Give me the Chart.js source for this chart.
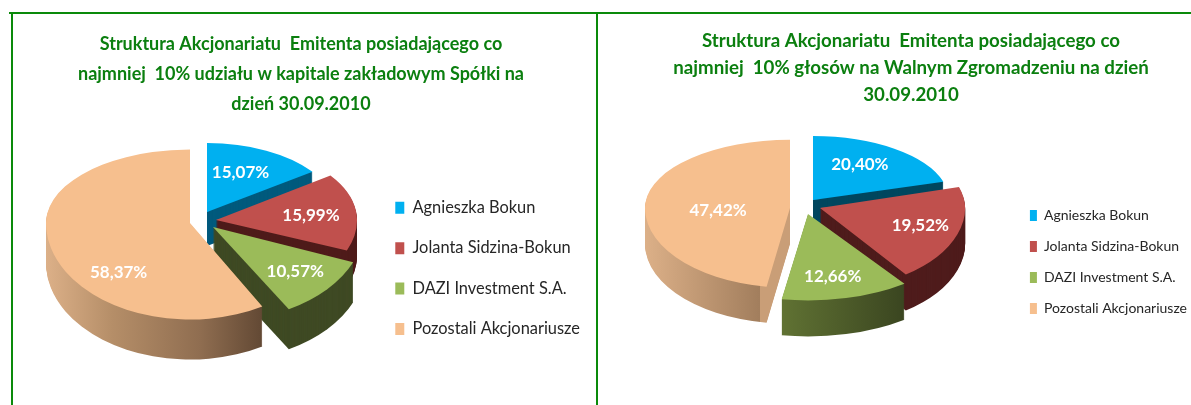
<!DOCTYPE html>
<html><head><meta charset="utf-8">
<style>
html,body{margin:0;padding:0;background:#fff;width:1191px;height:405px;overflow:hidden}
canvas{position:absolute;top:0}
.g{position:absolute;background:#0a8a0a}
</style>
<script src="https://cdn.jsdelivr.net/npm/chart.js@4"></script>
</head><body>
<div class="g" style="left:9px;top:12px;width:588px;height:2px"></div>
<div class="g" style="left:597px;top:12px;width:594px;height:2px"></div>
<div class="g" style="left:11px;top:12px;width:2px;height:393px"></div>
<div class="g" style="left:596px;top:12px;width:2px;height:393px"></div>
<canvas id="a" width="582" height="405" style="left:12px"></canvas>
<canvas id="b" width="572" height="405" style="left:625px"></canvas>
<script>
const shareholders = ['Agnieszka Bokun','Jolanta Sidzina-Bokun','DAZI Investment S.A.','Pozostali Akcjonariusze'];
const capitalShares = [15.07,15.99,10.57,58.37];
const voteShares = [20.40,19.52,12.66,47.42];
const sliceColors = ['#00b0f0','#c0504d','#9bbb59','#f6bf8e'];
const capitalTitle = ['Struktura Akcjonariatu  Emitenta posiadającego co','najmniej  10% udziału w kapitale zakładowym Spółki na','dzień 30.09.2010'];
const votesTitle = ['Struktura Akcjonariatu  Emitenta posiadającego co','najmniej  10% głosów na Walnym Zgromadzeniu na dzień','30.09.2010'];

const pie3d = {
  id:'pie3d',
  beforeDatasetsDraw(chart,args,o){
    const ctx=chart.ctx, arcs=chart.getDatasetMeta(0).data, W=chart.width, H=chart.height;
    const left=chart.canvas.offsetLeft;
    const paint=(el,s,shift,color)=>{
      const Y=s.vy+shift, saved=el.options;
      if(color) el.options=Object.assign({},saved,{backgroundColor:color});
      el.x=s.vx-left; el.y=0; el.outerRadius=s.r; el.innerRadius=0;
      [[s.kb,0],[s.kf,1]].forEach(([k,bottom])=>{
        ctx.save();
        ctx.beginPath();
        if(bottom) ctx.rect(0,Y-0.4,W,H+100-Y); else ctx.rect(0,-100,W,Y+100);
        ctx.clip();
        ctx.translate(0,Y); ctx.scale(1,k);
        el.draw(ctx);
        ctx.restore();
      });
      el.options=saved;
    };
    const side=s=>{
      if(typeof s.side==='string') return s.side;
      const g=ctx.createLinearGradient(s.side.x0-left,0,s.side.x1-left,0);
      s.side.stops.forEach(p=>g.addColorStop(p[0],p[1]));
      return g;
    };
    arcs.forEach((el,i)=>{
      const s=o.slices[i], c=side(s);
      for(let d=s.depth;d>=1;d--) paint(el,s,d,c);
    });
    arcs.forEach((el,i)=>paint(el,o.slices[i],0,null));
    ctx.save();
    ctx.fillStyle='#fff'; ctx.textAlign='center'; ctx.textBaseline='middle';
    ctx.font=o.labelFont;
    const values=chart.data.datasets[0].data;
    arcs.forEach((el,i)=>{
      const s=o.slices[i], m=(el.startAngle+el.endAngle)/2, rho=s.r*0.65;
      const sy=Math.sin(m), k=sy<0?s.kb:s.kf;
      const x=s.vx-left+rho*Math.cos(m)+s.nudge[0], y=s.vy+rho*sy*k+s.nudge[1];
      ctx.fillText(values[i].toFixed(2).replace('.',',')+'%',x,y);
    });
    ctx.restore();
    return false;
  }
};
function build(id,title,values,titleFont,lineH,titlePad,legendFont,legendPad,box,padRight,padBottom,slices,labelFont){
  return new Chart(document.getElementById(id),{
    type:'pie',
    data:{labels:shareholders,datasets:[{data:values,backgroundColor:sliceColors,borderWidth:0}]},
    plugins:[pie3d],
    options:{
      responsive:false,animation:false,
      layout:{padding:{right:padRight,bottom:padBottom}},
      plugins:{
        tooltip:{enabled:false},
        title:{display:true,text:title,color:'#0b7f0f',font:{family:'Lato',weight:'bold',size:titleFont,lineHeight:lineH},padding:titlePad},
        legend:{position:'right',fullSize:false,labels:{color:'#262626',font:{family:'Lato',size:legendFont},padding:legendPad,boxWidth:box[0],boxHeight:box[1],generateLabels(c){
          return shareholders.map((t,i)=>({text:t,fillStyle:sliceColors[i],strokeStyle:sliceColors[i],lineWidth:0,index:i,fontColor:'#262626'}));
        }}},
        pie3d:{slices,labelFont}
      }
    }
  });
}
build('a',capitalTitle,capitalShares,18,1.68,{top:29,bottom:12},16.4,24,[9,12],4,0,[
 {vx:207,vy:212,r:130,kb:.53,kf:.53,depth:34,side:'#005a7d',nudge:[-5,0]},
 {vx:216,vy:220,r:141,kb:.54,kf:.58,depth:36,side:'#4f1b1a',nudge:[4,2]},
 {vx:213,vy:227,r:151,kb:.56,kf:.63,depth:40,side:'#3f4a24',nudge:[8,4]},
 {vx:190,vy:223,r:144,kb:.51,kf:.67,depth:40,side:{x0:46,x1:267,stops:[[0,'#dcb088'],[.3,'#b58e68'],[.7,'#8f6d50'],[1,'#5f4632']]},nudge:[19,33]}
],'bold 17px Lato');
build('b',votesTitle,voteShares,18.7,1.44,{top:28,bottom:10},14,17,[7,11],0,0,[
 {vx:813,vy:200,r:136,kb:.47,kf:.47,depth:30,side:'#00475f',nudge:[-6,-2]},
 {vx:820,vy:208,r:145,kb:.51,kf:.57,depth:36,side:'#4f1c1c',nudge:[11,0]},
 {vx:808,vy:214,r:163,kb:.5,kf:.53,depth:36,side:{x0:782,x1:905,stops:[[0,'#607233'],[1,'#3a4520']]},nudge:[0,8]},
 {vx:790,vy:208,r:145,kb:.47,kf:.55,depth:36,side:{x0:645,x1:790,stops:[[0,'#dcb088'],[.79,'#a27e5d'],[.795,'#c99e77'],[1,'#c99e77']]},nudge:[22,6]}
],'bold 17px Lato');
</script>
</body></html>
